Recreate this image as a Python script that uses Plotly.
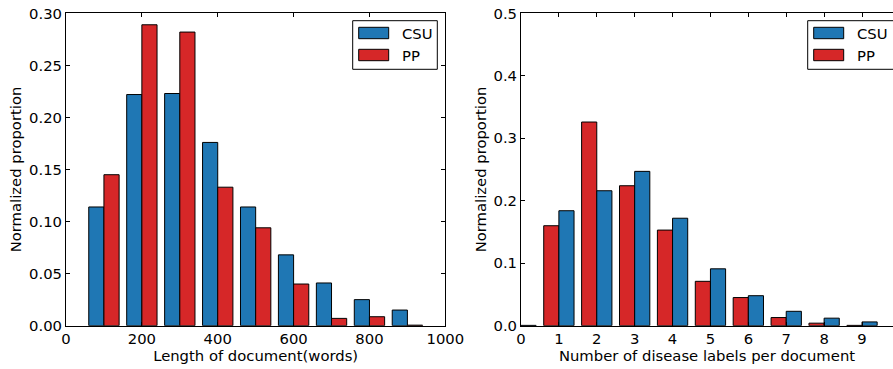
import plotly.graph_objects as go

# ---------------- data ----------------
length_bins = [100, 200, 300, 400, 500, 600, 700, 800, 900]
length_csu = [0.114, 0.222, 0.223, 0.176, 0.114, 0.068, 0.041, 0.025, 0.015]
length_pp = [0.145, 0.289, 0.282, 0.133, 0.094, 0.040, 0.007, 0.0086, 0.0005]

label_counts = [0, 1, 2, 3, 4, 5, 6, 7, 8, 9]
labels_pp = [0.0, 0.160, 0.326, 0.224, 0.153, 0.071, 0.045, 0.013, 0.004, 0.0005]
labels_csu = [0.0005, 0.184, 0.216, 0.247, 0.172, 0.091, 0.048, 0.023, 0.012, 0.006]

series_names = ["CSU", "PP"]
left_xticks = [0, 200, 400, 600, 800, 1000]
left_yticks = [0.00, 0.05, 0.10, 0.15, 0.20, 0.25, 0.30]
right_xticks = [0, 1, 2, 3, 4, 5, 6, 7, 8, 9]
right_yticks = [0.0, 0.1, 0.2, 0.3, 0.4, 0.5]

# ---------------- style ----------------
W, H = 893, 369
BLUE = "#1f77b4"
RED = "#d62728"
FONT = "DejaVu Sans"
FS = 14.8

# pixel geometry of the axes
L_X0, L_X1 = 66.0, 445.33
R_X0, R_X1 = 521.0, 893.0
Y_TOP, Y_BOT = 13.33, 325.67

fig = go.Figure()

bar_line = dict(color="black", width=1)

# left chart
fig.add_trace(go.Bar(x=length_bins, y=length_csu, width=40, offset=-40,
                     marker=dict(color=BLUE, line=bar_line), name=series_names[0],
                     xaxis="x", yaxis="y", showlegend=False))
fig.add_trace(go.Bar(x=length_bins, y=length_pp, width=40, offset=0,
                     marker=dict(color=RED, line=bar_line), name=series_names[1],
                     xaxis="x", yaxis="y", showlegend=False))
# right chart
fig.add_trace(go.Bar(x=label_counts, y=labels_pp, width=0.4, offset=-0.4,
                     marker=dict(color=RED, line=bar_line), name=series_names[1],
                     xaxis="x2", yaxis="y2", showlegend=False))
fig.add_trace(go.Bar(x=label_counts, y=labels_csu, width=0.4, offset=0,
                     marker=dict(color=BLUE, line=bar_line), name=series_names[0],
                     xaxis="x2", yaxis="y2", showlegend=False))

axis_common = dict(showline=True, linecolor="black", linewidth=1, ticks="inside",
                   ticklen=4, tickwidth=1, tickcolor="black", showgrid=False,
                   zeroline=False, automargin=False,
                   tickfont=dict(family=FONT, size=FS, color="black"))

ydom = [1 - Y_BOT / H, 1 - Y_TOP / H]
right_range_max = 9 * (R_X1 - R_X0) / (862.0 - R_X0)

fig.update_layout(
    width=W, height=H,
    margin=dict(l=0, r=0, t=0, b=0, autoexpand=False),
    paper_bgcolor="white", plot_bgcolor="white",
    barmode="overlay",
    font=dict(family=FONT, size=FS, color="black"),
    xaxis=dict(domain=[L_X0 / W, L_X1 / W], range=[0, 1000], tickvals=left_xticks,
               mirror="ticks", anchor="y",
               title=dict(text="Length of document(words)", standoff=4,
                          font=dict(family=FONT, size=FS)),
               **axis_common),
    yaxis=dict(domain=ydom, range=[0, 0.30], tickvals=left_yticks,
               tickformat=".2f", mirror="ticks", anchor="x",
               title=dict(text="Normalized proportion", standoff=3,
                          font=dict(family=FONT, size=FS)),
               **axis_common),
    xaxis2=dict(domain=[R_X0 / W, R_X1 / W], range=[0, right_range_max],
                tickvals=right_xticks, mirror="ticks", anchor="y2",
                title=dict(text="Number of disease labels per document", standoff=4,
                           font=dict(family=FONT, size=FS)),
                **axis_common),
    yaxis2=dict(domain=ydom, range=[0, 0.5], tickvals=right_yticks,
                tickformat=".1f", mirror=False, anchor="x2",
                title=dict(text="Normalized proportion", standoff=3,
                           font=dict(family=FONT, size=FS)),
                **axis_common),
)

# ---------------- hand-drawn matplotlib-style legends ----------------
shapes = []
annotations = []


def add_legend(xref, yref, dx0, dx1, box_x0, box_x1, entries):
    def fx(px):
        return (px - dx0) / (dx1 - dx0)

    def fy(py):
        return 1 - (py - Y_TOP) / (Y_BOT - Y_TOP)

    shapes.append(dict(type="rect", xref=xref, yref=yref,
                       x0=fx(box_x0), x1=fx(box_x1), y0=fy(69.3), y1=fy(20.7),
                       line=dict(color="black", width=1), fillcolor="white", layer="above"))
    patch_x0 = box_x0 + 6
    patch_x1 = box_x0 + 36
    text_x = box_x0 + 47
    for (name, color), (py0, py1, ty) in zip(entries, [(27.3, 38.7, 33.0), (49.3, 60.7, 55.0)]):
        shapes.append(dict(type="rect", xref=xref, yref=yref,
                           x0=fx(patch_x0), x1=fx(patch_x1), y0=fy(py1), y1=fy(py0),
                           line=dict(color="black", width=1), fillcolor=color, layer="above"))
        annotations.append(dict(xref=xref, yref=yref, x=fx(text_x), y=fy(ty),
                                text=name, showarrow=False, xanchor="left", yanchor="middle",
                                font=dict(family=FONT, size=FS, color="black")))


add_legend("x domain", "y domain", L_X0, L_X1, 352.7, 437.3,
           [(series_names[0], BLUE), (series_names[1], RED)])
add_legend("x2 domain", "y2 domain", R_X0, R_X1, 807.7, 900.0,
           [(series_names[0], BLUE), (series_names[1], RED)])

fig.update_layout(shapes=shapes, annotations=annotations)

fig.write_html("out.html")
